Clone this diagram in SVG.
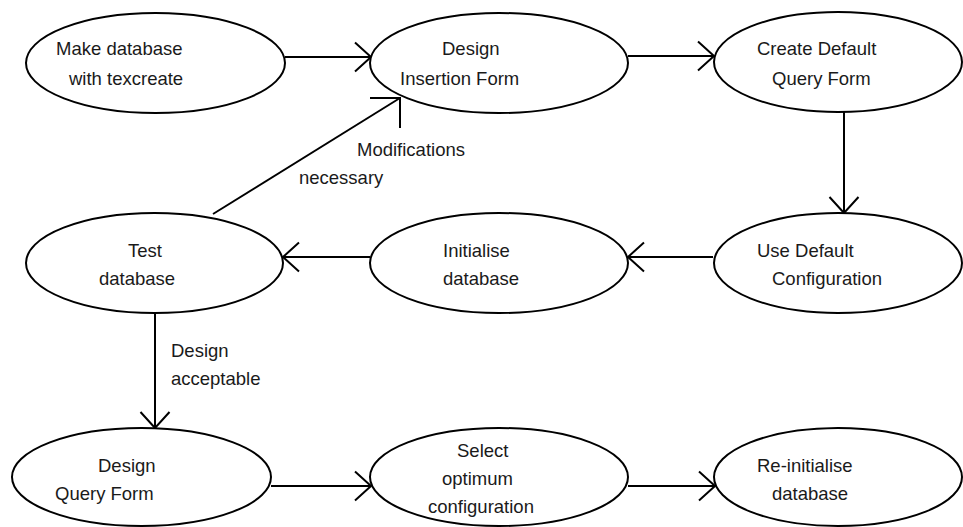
<svg xmlns="http://www.w3.org/2000/svg" width="963" height="527" viewBox="0 0 963 527">
<defs>
<style>
.node ellipse{fill:#fff;stroke:#000;stroke-width:2}
text{font-family:"Liberation Sans",Arial,sans-serif;font-size:18.5px;fill:#1a1a1a}
.conn line,.conn polyline{stroke:#000;stroke-width:2;fill:none}
</style>
<marker id="arr" markerUnits="userSpaceOnUse" markerWidth="40" markerHeight="40" viewBox="-20 -20 40 40" refX="0" refY="0" orient="auto" overflow="visible">
<path d="M-16,-14.5 L0,0 L-16,14.5" fill="none" stroke="#000" stroke-width="2"/>
</marker>
</defs>
<rect width="963" height="527" fill="#fff"/>
<g class="conn" id="connectors">
<line x1="285" y1="57" x2="371" y2="57" marker-end="url(#arr)"/>
<line x1="628" y1="56" x2="714" y2="56" marker-end="url(#arr)"/>
<line x1="844" y1="112" x2="844" y2="213" marker-end="url(#arr)"/>
<line x1="713" y1="257" x2="628" y2="257" marker-end="url(#arr)"/>
<line x1="370" y1="257" x2="283" y2="257" marker-end="url(#arr)"/>
<line x1="213" y1="214" x2="400" y2="98"/>
<polyline points="370,98 400,98 400,128"/>
<line x1="155" y1="313" x2="155" y2="428" marker-end="url(#arr)"/>
<line x1="271" y1="486" x2="371" y2="486" marker-end="url(#arr)"/>
<line x1="628" y1="486" x2="715" y2="486" marker-end="url(#arr)"/>
<text x="357" y="156">Modifications</text>
<text x="299" y="184">necessary</text>
<text x="171" y="357">Design</text>
<text x="171" y="385">acceptable</text>
</g>
<g class="node" id="n1"><ellipse cx="155.5" cy="63" rx="129.5" ry="50"/><text x="56" y="55">Make database</text><text x="69" y="85">with texcreate</text></g>
<g class="node" id="n2"><ellipse cx="499" cy="63" rx="129" ry="50"/><text x="442" y="55">Design</text><text x="400" y="85">Insertion Form</text></g>
<g class="node" id="n3"><ellipse cx="838" cy="62" rx="124" ry="50"/><text x="757" y="55">Create Default</text><text x="772" y="85">Query Form</text></g>
<g class="node" id="n4"><ellipse cx="154.5" cy="263" rx="128.5" ry="50"/><text x="128" y="257">Test</text><text x="99" y="285">database</text></g>
<g class="node" id="n5"><ellipse cx="499" cy="263" rx="129" ry="50"/><text x="443" y="257">Initialise</text><text x="443" y="285">database</text></g>
<g class="node" id="n6"><ellipse cx="838" cy="263" rx="124" ry="50"/><text x="757" y="257">Use Default</text><text x="772" y="285">Configuration</text></g>
<g class="node" id="n7"><ellipse cx="141.5" cy="477" rx="129.5" ry="49"/><text x="98" y="472">Design</text><text x="55" y="500">Query Form</text></g>
<g class="node" id="n8"><ellipse cx="499" cy="477" rx="129" ry="49"/><text x="457" y="457">Select</text><text x="442" y="485">optimum</text><text x="428" y="513">configuration</text></g>
<g class="node" id="n9"><ellipse cx="838" cy="477" rx="124" ry="49"/><text x="757" y="472">Re-initialise</text><text x="772" y="500">database</text></g>
</svg>
